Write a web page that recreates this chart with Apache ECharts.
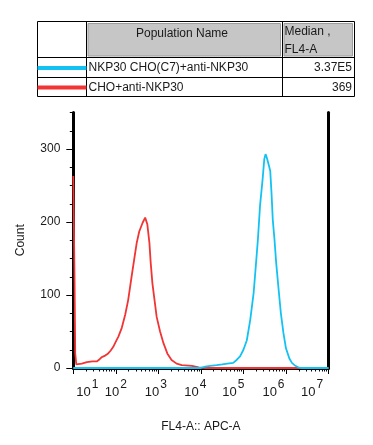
<!DOCTYPE html>
<html>
<head>
<meta charset="utf-8">
<script src="https://cdn.jsdelivr.net/npm/echarts@6/dist/echarts.min.js"></script>
<style>html,body{margin:0;padding:0;background:#fff;}#c{width:373px;height:445px;}</style>
</head>
<body>
<div id="c"></div>
<script>
// Histogram data: x in decades (log10 of FL4-A), y = Count
const redX = [1.00, 1.015, 1.03, 1.045, 1.07, 1.2, 1.32, 1.45, 1.55, 1.62, 1.67, 1.75, 1.82, 1.88, 1.94, 2.0, 2.06, 2.14, 2.22, 2.29, 2.37, 2.43, 2.49, 2.55, 2.63, 2.69, 2.74, 2.79, 2.82, 2.86, 2.91, 2.96, 3.04, 3.12, 3.21, 3.31, 3.43, 3.55, 3.79, 3.95, 4.1, 7.0];
const redY = [263, 263, 118, 20, 5, 6, 8, 9, 9, 12, 15, 17, 20, 24, 29, 36, 43, 55, 73, 93, 125, 148, 171, 187, 199, 206, 197, 171, 144, 116, 93, 70, 50, 34, 20, 11, 6, 4, 3, 1, 0, 0];
const blueX = [1.0, 4.0, 4.1, 4.22, 4.37, 4.5, 4.62, 4.76, 4.84, 4.92, 5.0, 5.08, 5.16, 5.24, 5.29, 5.34, 5.39, 5.45, 5.49, 5.52, 5.55, 5.6, 5.63, 5.66, 5.69, 5.73, 5.77, 5.82, 5.88, 5.94, 6.0, 6.08, 6.14, 6.22, 6.29, 6.35, 7.0];
const blueY = [0, 0, 2, 3, 4, 5, 6, 7, 11, 16, 25, 38, 66, 103, 139, 176, 222, 258, 286, 293, 288, 277, 270, 240, 203, 176, 144, 112, 75, 48, 27, 13, 7, 3, 1, 0, 0];

const seriesNames = ['NKP30 CHO(C7)+anti-NKP30', 'CHO+anti-NKP30'];
const medians = ['3.37E5', '369'];
const tableHeaders = ['Population Name', 'Median ,', 'FL4-A'];
const xDecades = [1, 2, 3, 4, 5, 6, 7];
const yTicks = [0, 100, 200, 300];
const yMinorTicks = [25, 50, 75, 125, 150, 175, 225, 250, 275, 325, 350];

const BLUE = '#12c2f2';
const RED = '#f23434';
const FONT = '"Liberation Sans", Arial, sans-serif';

const xMinor = [];
for (let d = 1; d < 7; d++) for (let k = 2; k <= 9; k++) xMinor.push(d + Math.log10(k));

// label shifts (px) to mimic original label placement
const shifts = [14, 0, -2.5, -5.5, -10, -12.5, -16.5];
const rich = {};
xDecades.forEach((d, i) => {
  const s = shifts[i];
  rich['b' + d] = {fontSize: 13, fontFamily: FONT, color: '#1a1a1a', padding: [15, 0, 0, Math.max(0, 2 * s)]};
  rich['s' + d] = {fontSize: 12, fontFamily: FONT, color: '#1a1a1a', padding: [0, Math.max(0, -2 * s), 0, 1]};
});

const chart = echarts.init(document.getElementById('c'), null, {renderer: 'canvas'});
const T = {x0: 37.5, x1: 86.5, x2: 282.5, x3: 354.5, y0: 21.5, y1: 57.5, y2: 77.5, y3: 96.5};
const graphic = [
  {type: 'rect', shape: {x: T.x0, y: T.y0, width: T.x3 - T.x0, height: T.y3 - T.y0}, style: {fill: '#fff', stroke: '#000', lineWidth: 1}},
  {type: 'rect', shape: {x: T.x1 + 1.5, y: T.y0 + 2, width: T.x2 - T.x1 - 3.5, height: T.y1 - T.y0 - 3.5}, style: {fill: '#c6c6c6', stroke: '#9c9c9c', lineWidth: 1}},
  {type: 'rect', shape: {x: T.x2 + 1.5, y: T.y0 + 2, width: T.x3 - T.x2 - 3.5, height: T.y1 - T.y0 - 3.5}, style: {fill: '#c6c6c6', stroke: '#9c9c9c', lineWidth: 1}},
  {type: 'line', shape: {x1: T.x1, y1: T.y0, x2: T.x1, y2: T.y3}, style: {stroke: '#000', lineWidth: 1}},
  {type: 'line', shape: {x1: T.x2, y1: T.y0, x2: T.x2, y2: T.y3}, style: {stroke: '#000', lineWidth: 1}},
  {type: 'line', shape: {x1: T.x0, y1: T.y1, x2: T.x3, y2: T.y1}, style: {stroke: '#000', lineWidth: 1}},
  {type: 'line', shape: {x1: T.x0, y1: T.y2, x2: T.x3, y2: T.y2}, style: {stroke: '#000', lineWidth: 1}},
  {type: 'line', shape: {x1: T.x0, y1: 68, x2: T.x1, y2: 68}, style: {stroke: BLUE, lineWidth: 4}},
  {type: 'line', shape: {x1: T.x0, y1: 87.5, x2: T.x1, y2: 87.5}, style: {stroke: RED, lineWidth: 4}},
  {type: 'text', x: 182, y: 33.5, style: {text: tableHeaders[0], font: '12px ' + FONT, fill: '#1a1a1a', align: 'center', verticalAlign: 'middle'}},
  {type: 'text', x: 284.5, y: 32, style: {text: tableHeaders[1], font: '12px ' + FONT, fill: '#1a1a1a', align: 'left', verticalAlign: 'middle'}},
  {type: 'text', x: 284.5, y: 50, style: {text: tableHeaders[2], font: '12px ' + FONT, fill: '#1a1a1a', align: 'left', verticalAlign: 'middle'}},
  {type: 'text', x: 88.5, y: 68, style: {text: seriesNames[0], font: '12px ' + FONT, fill: '#1a1a1a', align: 'left', verticalAlign: 'middle'}},
  {type: 'text', x: 88.5, y: 87.5, style: {text: seriesNames[1], font: '12px ' + FONT, fill: '#1a1a1a', align: 'left', verticalAlign: 'middle'}},
  {type: 'text', x: 352, y: 68, style: {text: medians[0], font: '12px ' + FONT, fill: '#1a1a1a', align: 'right', verticalAlign: 'middle'}},
  {type: 'text', x: 352, y: 87.5, style: {text: medians[1], font: '12px ' + FONT, fill: '#1a1a1a', align: 'right', verticalAlign: 'middle'}}
];

const baseX = {type: 'value', min: 1, max: 7, splitLine: {show: false}};
const baseY = {type: 'value', min: 0, max: 350, splitLine: {show: false}};

chart.setOption({
  backgroundColor: '#fff',
  animation: false,
  graphic: graphic,
  grid: {left: 73.3, right: 44.5, top: 112.5, bottom: 77, containLabel: false},
  xAxis: [
    Object.assign({}, baseX, {
      position: 'bottom',
      name: 'FL4-A:: APC-A', nameLocation: 'middle', nameGap: 53,
      nameTextStyle: {fontSize: 12, fontFamily: FONT, color: '#1a1a1a'},
      axisLine: {lineStyle: {color: '#000', width: 3}},
      axisTick: {customValues: xDecades, length: 6, lineStyle: {color: '#000', width: 1}},
      axisLabel: {customValues: xDecades, margin: 3, showMinLabel: true, showMaxLabel: true, hideOverlap: false,
        formatter: v => {const k = Math.round(v); return '{b' + k + '|10}{s' + k + '|' + k + '}';}, rich: rich}
    }),
    Object.assign({}, baseX, {
      position: 'bottom',
      axisLine: {show: false},
      axisTick: {customValues: xMinor, length: 3.5, lineStyle: {color: '#000', width: 1}},
      axisLabel: {show: false}
    }),
    Object.assign({}, baseX, {
      position: 'top',
      axisLine: {lineStyle: {color: '#000', width: 1.5}},
      axisTick: {show: false}, axisLabel: {show: false}
    })
  ],
  yAxis: [
    Object.assign({}, baseY, {
      position: 'left',
      name: 'Count', nameLocation: 'middle', nameGap: 47,
      nameTextStyle: {fontSize: 12, fontFamily: FONT, color: '#1a1a1a'},
      axisLine: {lineStyle: {color: '#000', width: 3}},
      axisTick: {customValues: yTicks, length: 7, lineStyle: {color: '#000', width: 1}},
      axisLabel: {customValues: yTicks, margin: 13, fontSize: 12, fontFamily: FONT, color: '#1a1a1a'}
    }),
    Object.assign({}, baseY, {
      position: 'left',
      axisLine: {show: false},
      axisTick: {customValues: yMinorTicks, length: 3.5, lineStyle: {color: '#000', width: 1}},
      axisLabel: {show: false}
    }),
    Object.assign({}, baseY, {
      position: 'right',
      axisLine: {lineStyle: {color: '#000', width: 3}},
      axisTick: {show: false}, axisLabel: {show: false}
    })
  ],
  series: [
    {name: seriesNames[1], type: 'line', xAxisIndex: 0, yAxisIndex: 0, symbol: 'none', silent: true,
     lineStyle: {color: RED, width: 1.8}, data: redX.map((x, i) => [x, redY[i]])},
    {name: seriesNames[0], type: 'line', xAxisIndex: 0, yAxisIndex: 0, symbol: 'none', silent: true,
     lineStyle: {color: BLUE, width: 1.8}, data: blueX.map((x, i) => [x, blueY[i]])}
  ]
});
</script>
</body>
</html>
